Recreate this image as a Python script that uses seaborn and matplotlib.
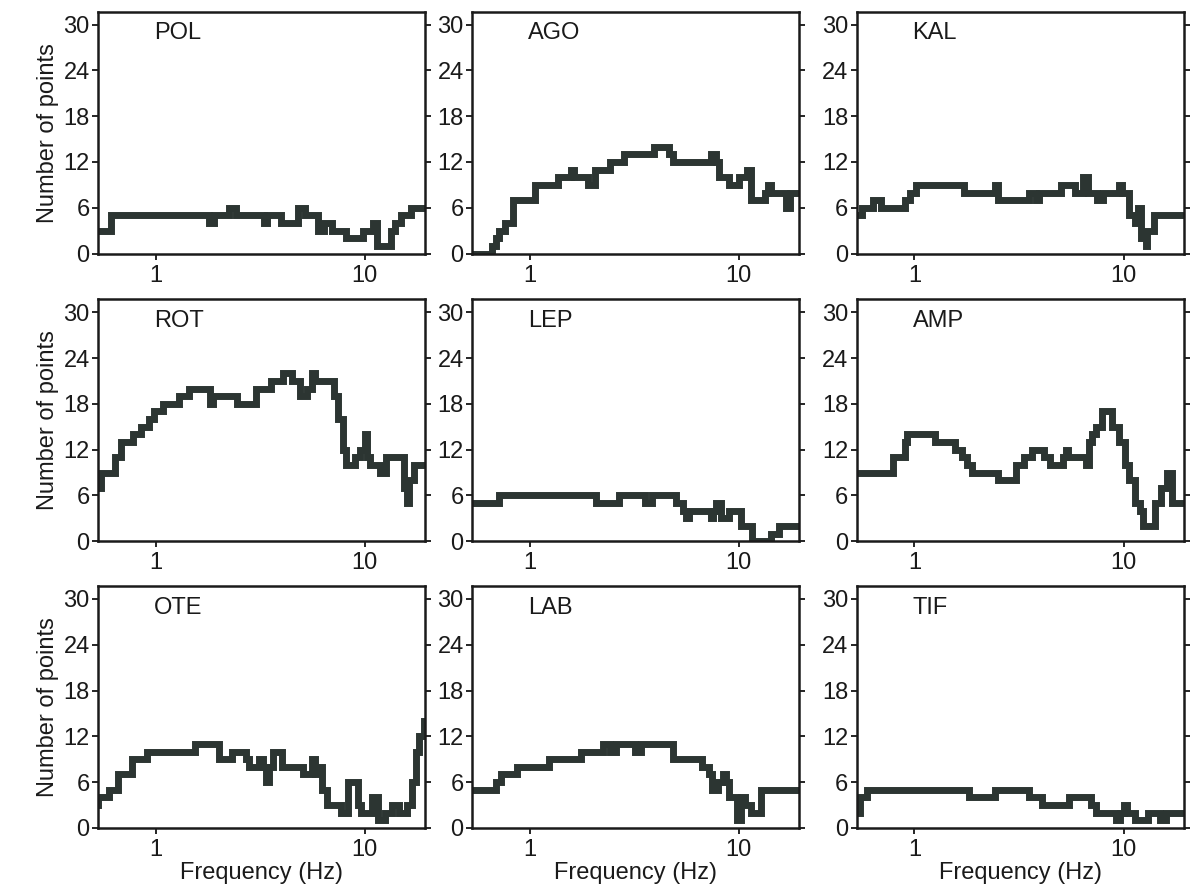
import matplotlib
matplotlib.use("Agg")
import matplotlib.pyplot as plt
import seaborn as sns
from matplotlib.ticker import FixedLocator, NullLocator, FixedFormatter

sns.set_style("ticks")
plt.rcParams['font.family'] = ['Liberation Sans', 'DejaVu Sans']

# panel names, in reading order
names = ["POL", "AGO", "KAL", "ROT", "LEP", "AMP", "OTE", "LAB", "TIF"]

# step data: frequency (Hz) where a step starts, number of points
pol_f = [0.52, 0.61, 1.80, 1.90, 2.25, 2.43, 3.28, 3.41, 3.97, 4.79, 5.17, 6.00, 6.35, 6.98, 8.13, 9.80, 11.0, 11.4, 13.3, 14.0, 14.9, 16.6, 20.0]
pol_n = [3, 5, 4, 5, 6, 5, 4, 5, 4, 6, 5, 3, 4, 3, 2, 3, 4, 1, 3, 4, 5, 6, 6]

ago_f = [0.52, 0.66, 0.69, 0.71, 0.74, 0.76, 0.83, 1.06, 1.36, 1.57, 1.63, 1.91, 2.05, 2.41, 2.84, 3.92, 4.62, 4.87, 7.37, 7.78, 8.07, 8.97, 10.0, 10.9, 11.5, 13.3, 13.8, 14.3, 16.8, 17.5, 20.0]
ago_n = [0, 1, 2, 3, 3, 4, 7, 9, 10, 11, 10, 9, 11, 12, 13, 14, 13, 12, 13, 12, 10, 9, 10, 11, 7, 8, 9, 8, 6, 8, 8]

kal_f = [0.52, 0.56, 0.63, 0.69, 0.90, 0.95, 1.02, 1.73, 2.42, 2.51, 3.52, 3.80, 3.95, 5.01, 5.88, 6.43, 6.77, 7.50, 8.00, 9.48, 9.83, 10.6, 11.3, 11.7, 12.1, 12.8, 13.0, 14.0, 20.0]
kal_n = [5, 6, 7, 6, 7, 8, 9, 8, 9, 7, 8, 7, 8, 9, 8, 10, 8, 7, 8, 9, 8, 5, 4, 6, 2, 1, 3, 5, 5]

rot_f = [0.52, 0.55, 0.64, 0.68, 0.78, 0.85, 0.93, 0.98, 1.08, 1.30, 1.45, 1.82, 1.89, 2.46, 3.02, 3.57, 4.07, 4.47, 4.92, 5.29, 5.60, 5.81, 7.14, 7.42, 7.85, 8.15, 9.00, 9.44, 10.0, 10.3, 10.6, 11.8, 12.7, 15.4, 15.9, 16.3, 17.2, 20.0]
rot_n = [7, 9, 11, 13, 14, 15, 16, 17, 18, 19, 20, 18, 19, 18, 20, 21, 22, 21, 19, 20, 22, 21, 19, 16, 12, 10, 11, 12, 14, 11, 10, 9, 11, 7, 5, 8, 10, 10]

lep_f = [0.52, 0.71, 2.07, 2.66, 3.56, 3.83, 5.02, 5.40, 5.60, 5.75, 7.35, 7.55, 7.77, 8.19, 8.98, 10.2, 11.6, 14.3, 15.5, 20.0]
lep_n = [5, 6, 5, 6, 5, 6, 5, 4, 3, 4, 3, 4, 5, 3, 4, 2, 0, 1, 2, 2]

amp_f = [0.52, 0.79, 0.90, 0.92, 1.26, 1.57, 1.69, 1.78, 1.88, 2.50, 3.05, 3.34, 3.65, 4.14, 4.45, 5.13, 5.30, 5.45, 6.60, 6.85, 7.10, 7.36, 7.92, 8.83, 9.48, 10.2, 10.6, 11.4, 12.0, 12.4, 14.1, 15.1, 16.2, 17.1, 20.0]
amp_n = [9, 11, 13, 14, 13, 12, 11, 10, 9, 8, 10, 11, 12, 11, 10, 11, 12, 11, 10, 13, 14, 15, 17, 15, 13, 10, 8, 5, 4, 2, 5, 7, 9, 5, 5]

ote_f = [0.51, 0.53, 0.60, 0.66, 0.77, 0.91, 1.54, 2.00, 2.32, 2.70, 2.80, 3.13, 3.25, 3.38, 3.50, 3.64, 4.00, 5.09, 5.60, 5.81, 5.92, 6.27, 6.63, 7.69, 8.28, 9.27, 9.63, 10.8, 11.6, 12.5, 13.5, 14.5, 16.0, 16.9, 17.6, 18.2, 19.2, 20.0]
ote_n = [3, 4, 5, 7, 9, 10, 11, 9, 10, 9, 8, 9, 8, 6, 8, 10, 8, 7, 9, 7, 8, 5, 3, 2, 6, 3, 2, 4, 1, 2, 3, 2, 3, 6, 10, 12, 14, 14]

lab_f = [0.52, 0.69, 0.73, 0.87, 1.24, 1.76, 2.24, 2.41, 2.58, 3.19, 3.42, 4.86, 6.68, 7.17, 7.42, 7.96, 8.40, 8.71, 9.00, 9.83, 10.2, 10.7, 11.5, 12.8, 14.0, 20.0]
lab_n = [5, 6, 7, 8, 9, 10, 11, 10, 11, 10, 11, 9, 8, 7, 5, 6, 7, 6, 4, 1, 4, 3, 2, 5, 5, 5]

tif_f = [0.51, 0.55, 0.59, 1.83, 2.42, 3.52, 4.05, 5.48, 7.02, 7.40, 9.15, 9.65, 10.0, 10.4, 11.4, 13.1, 15.0, 16.0, 20.0]
tif_n = [2, 4, 5, 4, 5, 4, 3, 4, 3, 2, 1, 2, 3, 2, 1, 2, 1, 2, 2]

freqs = [pol_f, ago_f, kal_f, rot_f, lep_f, amp_f, ote_f, lab_f, tif_f]
counts = [pol_n, ago_n, kal_n, rot_n, lep_n, amp_n, ote_n, lab_n, tif_n]

y_ticks = [0, 6, 12, 18, 24, 30]
x_ticks = [1, 10]
x_tick_labels = ["1", "10"]

fig = plt.figure(figsize=(11.95, 8.96), dpi=100)

lefts = [0.082, 0.395, 0.717]
bottoms = [0.717, 0.396, 0.076]
w, h = 0.274, 0.270
line_color = "#2c3532"
fs = 17

for i, name in enumerate(names):
    r, c = divmod(i, 3)
    ax = fig.add_axes([lefts[c], bottoms[r], w, h])
    sns.lineplot(x=freqs[i], y=counts[i], ax=ax, drawstyle="steps-post",
                 color=line_color, lw=5, solid_joinstyle="miter")
    ax.set_xscale("log")
    ax.set_xlim(0.53, 19.5)
    ax.set_ylim(0, 31.7)
    ax.xaxis.set_major_locator(FixedLocator(x_ticks))
    ax.xaxis.set_major_formatter(FixedFormatter(x_tick_labels))
    ax.xaxis.set_minor_locator(NullLocator())
    ax.set_yticks(y_ticks)
    ax.tick_params(axis="both", labelsize=fs, direction="out", length=4,
                   width=1.2, color="black", labelcolor="#1a1a1a")
    ax.tick_params(axis="y", right=True, pad=2)
    ax.tick_params(axis="x", pad=4)
    for sp in ax.spines.values():
        sp.set_visible(True)
        sp.set_linewidth(1.8)
        sp.set_color("#1a1a1a")
    ax.text(0.17, 0.91, name, transform=ax.transAxes, fontsize=fs,
            ha="left", va="center", color="#1a1a1a")
    if c == 0:
        ax.set_ylabel("Number of points", fontsize=fs, color="#1a1a1a", labelpad=3)
    else:
        ax.set_ylabel("")
    if r == 2:
        ax.set_xlabel("Frequency (Hz)", fontsize=fs, color="#1a1a1a", labelpad=1)
    else:
        ax.set_xlabel("")

fig.savefig("out.png", dpi=100, facecolor="white")
